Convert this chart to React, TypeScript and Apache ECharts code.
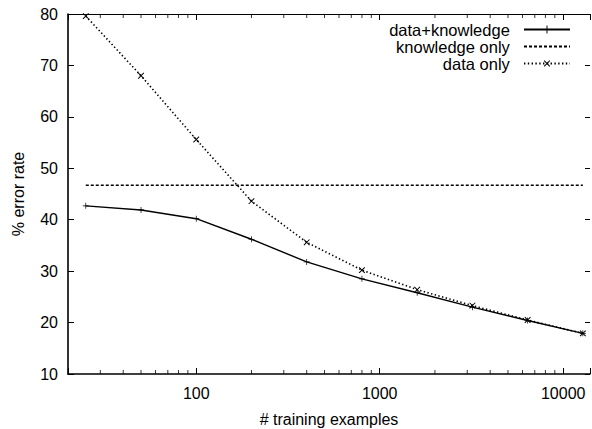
import React, { useEffect, useRef } from "react";
import * as echarts from "echarts";

const xValues = [25, 50, 100, 200, 400, 800, 1600, 3200, 6400, 12800];
const dataKnowledge = [42.7, 41.9, 40.2, 36.2, 31.8, 28.5, 25.8, 23.0, 20.4, 17.9];
const knowledgeOnlyValue = 46.7;
const dataOnly = [79.6, 68.0, 55.6, 43.6, 35.6, 30.2, 26.4, 23.3, 20.5, 17.9];
const xTickLabels = [100, 1000, 10000];
const xMinorTicks = [
  30, 40, 50, 60, 70, 80, 90,
  200, 300, 400, 500, 600, 700, 800, 900,
  2000, 3000, 4000, 5000, 6000, 7000, 8000, 9000,
];
const seriesNames = ["data+knowledge", "knowledge only", "data only"];

const PLUS = "path://M4.4,0H5.6V10H4.4ZM0,4.4H10V5.6H0Z";
const VTICK = "path://M0,0H1V10H0Z";
const FONT = "Liberation Sans, Arial, Helvetica, sans-serif";

export default function App() {
  const ref = useRef<HTMLDivElement>(null);
  useEffect(() => {
    if (!ref.current) return;
    const chart = echarts.init(ref.current, undefined, { renderer: "svg" });
    const pairs = (ys: number[]) => xValues.map((x, i) => [x, ys[i]]);
    const axisCommon = {
      axisLine: { show: true, lineStyle: { color: "#000", width: 1.6 } },
      splitLine: { show: false },
    };
    const minorTickSeries = (yv: number, offset: number) => ({
      type: "scatter",
      silent: true,
      clip: false,
      z: 1,
      symbol: VTICK,
      symbolSize: [1, 4],
      symbolOffset: [0, offset],
      itemStyle: { color: "#000" },
      data: xMinorTicks.map((v) => [v, yv]),
    });
    chart.setOption({
      animation: false,
      backgroundColor: "#fff",
      textStyle: { fontFamily: FONT },
      grid: { left: 68, right: 2, top: 14, bottom: 55, outerBoundsMode: "none", containLabel: false },
      legend: {
        right: 16,
        top: 16,
        orient: "vertical",
        align: "right",
        itemGap: 0,
        itemWidth: 46,
        itemHeight: 10,
        formatter: (name: string) => name + "  ",
        textStyle: {
          fontFamily: FONT,
          fontSize: 16.5,
          color: "#000",
        },
        data: seriesNames,
      },
      xAxis: [
        {
          type: "log",
          min: 20,
          max: 14000,
          name: "# training examples",
          nameLocation: "middle",
          nameGap: 37,
          nameTextStyle: { fontFamily: FONT, fontSize: 16, color: "#000" },
          ...axisCommon,
          axisTick: { show: true, inside: true, length: 6, lineStyle: { color: "#000" } },
          axisLabel: {
            fontFamily: FONT,
            fontSize: 16,
            color: "#000",
            margin: 11,
            formatter: (v: number) => (xTickLabels.some((t) => Math.abs(t - v) < 1e-6) ? String(Math.round(v)) : ""),
          },
        },
        {
          type: "log",
          min: 20,
          max: 14000,
          position: "top",
          axisLine: { show: true, lineStyle: { color: "#000", width: 1.2 } },
          splitLine: { show: false },
          axisTick: { show: true, inside: true, length: 6, lineStyle: { color: "#000" } },
          axisLabel: { show: false },
        },
      ],
      yAxis: [
        {
          type: "value",
          min: 10,
          max: 80,
          interval: 10,
          name: "% error rate",
          nameLocation: "middle",
          nameGap: 42,
          nameRotate: 90,
          nameTextStyle: { fontFamily: FONT, fontSize: 16, color: "#000" },
          ...axisCommon,
          axisTick: { show: true, inside: true, length: 6, lineStyle: { color: "#000" } },
          axisLabel: { fontFamily: FONT, fontSize: 16, color: "#000", margin: 10 },
        },
        {
          type: "value",
          min: 10,
          max: 80,
          interval: 10,
          position: "right",
          axisLine: { show: false },
          splitLine: { show: false },
          axisTick: { show: true, inside: true, length: 5, lineStyle: { color: "#000" } },
          axisLabel: { show: false },
        },
      ],
      series: [
        {
          name: seriesNames[0],
          type: "line",
          data: pairs(dataKnowledge),
          symbol: PLUS,
          symbolSize: 6,
          showAllSymbol: true,
          lineStyle: { color: "#000", width: 1.4, type: "solid" },
          itemStyle: { color: "#000" },
        },
        {
          name: seriesNames[1],
          type: "line",
          data: [
            [xValues[0], knowledgeOnlyValue],
            [xValues[xValues.length - 1], knowledgeOnlyValue],
          ],
          symbol: "circle",
          symbolSize: 1,
          showSymbol: false,
          lineStyle: { color: "#000", width: 1.6, type: [3, 2], opacity: 1 },
          itemStyle: { color: "#000", opacity: 0 },
        },
        {
          name: seriesNames[2],
          type: "line",
          data: pairs(dataOnly),
          symbol: PLUS,
          symbolRotate: 45,
          symbolSize: 8,
          showAllSymbol: true,
          lineStyle: { color: "#000", width: 1.6, type: [1.4, 2.4] },
          itemStyle: { color: "#000" },
        },
        minorTickSeries(10, -2),
        minorTickSeries(80, 2),
      ],
    });
    return () => chart.dispose();
  }, []);
  return (
    <div
      ref={ref}
      style={{ position: "fixed", left: 0, top: 0, width: 592, height: 429, background: "#fff" }}
    />
  );
}
